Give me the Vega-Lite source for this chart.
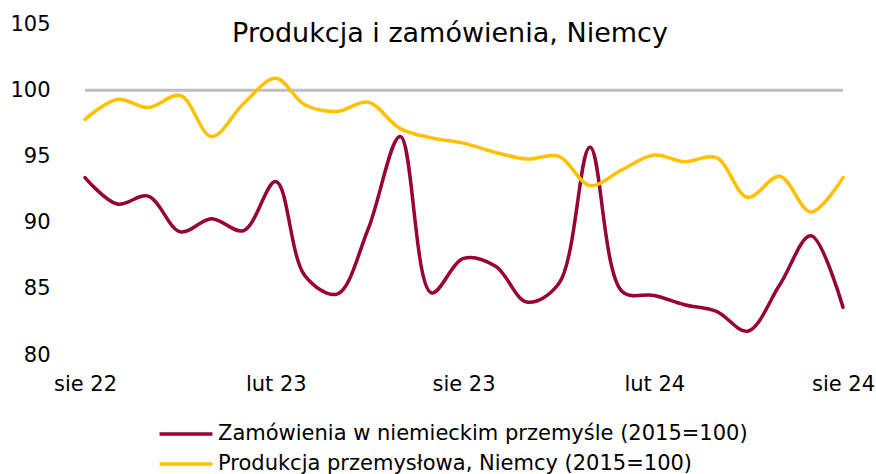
{
  "$schema": "https://vega.github.io/schema/vega-lite/v6.json",
  "width": 758,
  "height": 331,
  "autosize": "none",
  "padding": {"left": 85, "top": 24, "right": 33, "bottom": 119},
  "background": "white",
  "config": {"view": {"stroke": null}, "font": "DejaVu Sans"},
  "title": {"text": "Produkcja i zamówienia, Niemcy", "fontSize": 27, "font": "DejaVu Sans", "fontWeight": "normal", "color": "#000000", "anchor": "middle", "dx": -14, "offset": -35, "baseline": "top"},
  "datasets": {
    "series": [
      {"date": "2022-08-01", "series": "Zamówienia w niemieckim przemyśle (2015=100)", "value": 93.4},
      {"date": "2022-09-01", "series": "Zamówienia w niemieckim przemyśle (2015=100)", "value": 91.4},
      {"date": "2022-10-01", "series": "Zamówienia w niemieckim przemyśle (2015=100)", "value": 92.0},
      {"date": "2022-11-01", "series": "Zamówienia w niemieckim przemyśle (2015=100)", "value": 89.3},
      {"date": "2022-12-01", "series": "Zamówienia w niemieckim przemyśle (2015=100)", "value": 90.3},
      {"date": "2023-01-01", "series": "Zamówienia w niemieckim przemyśle (2015=100)", "value": 89.4},
      {"date": "2023-02-01", "series": "Zamówienia w niemieckim przemyśle (2015=100)", "value": 93.1},
      {"date": "2023-03-01", "series": "Zamówienia w niemieckim przemyśle (2015=100)", "value": 86.0},
      {"date": "2023-04-01", "series": "Zamówienia w niemieckim przemyśle (2015=100)", "value": 84.6},
      {"date": "2023-05-01", "series": "Zamówienia w niemieckim przemyśle (2015=100)", "value": 89.5},
      {"date": "2023-06-01", "series": "Zamówienia w niemieckim przemyśle (2015=100)", "value": 96.5},
      {"date": "2023-07-01", "series": "Zamówienia w niemieckim przemyśle (2015=100)", "value": 84.7},
      {"date": "2023-08-01", "series": "Zamówienia w niemieckim przemyśle (2015=100)", "value": 87.3},
      {"date": "2023-09-01", "series": "Zamówienia w niemieckim przemyśle (2015=100)", "value": 86.7},
      {"date": "2023-10-01", "series": "Zamówienia w niemieckim przemyśle (2015=100)", "value": 84.0},
      {"date": "2023-11-01", "series": "Zamówienia w niemieckim przemyśle (2015=100)", "value": 85.4},
      {"date": "2023-12-01", "series": "Zamówienia w niemieckim przemyśle (2015=100)", "value": 95.7},
      {"date": "2024-01-01", "series": "Zamówienia w niemieckim przemyśle (2015=100)", "value": 84.8},
      {"date": "2024-02-01", "series": "Zamówienia w niemieckim przemyśle (2015=100)", "value": 84.5},
      {"date": "2024-03-01", "series": "Zamówienia w niemieckim przemyśle (2015=100)", "value": 83.8},
      {"date": "2024-04-01", "series": "Zamówienia w niemieckim przemyśle (2015=100)", "value": 83.3},
      {"date": "2024-05-01", "series": "Zamówienia w niemieckim przemyśle (2015=100)", "value": 81.8},
      {"date": "2024-06-01", "series": "Zamówienia w niemieckim przemyśle (2015=100)", "value": 85.3},
      {"date": "2024-07-01", "series": "Zamówienia w niemieckim przemyśle (2015=100)", "value": 89.0},
      {"date": "2024-08-01", "series": "Zamówienia w niemieckim przemyśle (2015=100)", "value": 83.6},
      {"date": "2022-08-01", "series": "Produkcja przemysłowa, Niemcy (2015=100)", "value": 97.8},
      {"date": "2022-09-01", "series": "Produkcja przemysłowa, Niemcy (2015=100)", "value": 99.3},
      {"date": "2022-10-01", "series": "Produkcja przemysłowa, Niemcy (2015=100)", "value": 98.7},
      {"date": "2022-11-01", "series": "Produkcja przemysłowa, Niemcy (2015=100)", "value": 99.6},
      {"date": "2022-12-01", "series": "Produkcja przemysłowa, Niemcy (2015=100)", "value": 96.5},
      {"date": "2023-01-01", "series": "Produkcja przemysłowa, Niemcy (2015=100)", "value": 99.0},
      {"date": "2023-02-01", "series": "Produkcja przemysłowa, Niemcy (2015=100)", "value": 100.9},
      {"date": "2023-03-01", "series": "Produkcja przemysłowa, Niemcy (2015=100)", "value": 98.9},
      {"date": "2023-04-01", "series": "Produkcja przemysłowa, Niemcy (2015=100)", "value": 98.4},
      {"date": "2023-05-01", "series": "Produkcja przemysłowa, Niemcy (2015=100)", "value": 99.1},
      {"date": "2023-06-01", "series": "Produkcja przemysłowa, Niemcy (2015=100)", "value": 97.1},
      {"date": "2023-07-01", "series": "Produkcja przemysłowa, Niemcy (2015=100)", "value": 96.4},
      {"date": "2023-08-01", "series": "Produkcja przemysłowa, Niemcy (2015=100)", "value": 96.0},
      {"date": "2023-09-01", "series": "Produkcja przemysłowa, Niemcy (2015=100)", "value": 95.3},
      {"date": "2023-10-01", "series": "Produkcja przemysłowa, Niemcy (2015=100)", "value": 94.8},
      {"date": "2023-11-01", "series": "Produkcja przemysłowa, Niemcy (2015=100)", "value": 95.0},
      {"date": "2023-12-01", "series": "Produkcja przemysłowa, Niemcy (2015=100)", "value": 92.8},
      {"date": "2024-01-01", "series": "Produkcja przemysłowa, Niemcy (2015=100)", "value": 94.0},
      {"date": "2024-02-01", "series": "Produkcja przemysłowa, Niemcy (2015=100)", "value": 95.1},
      {"date": "2024-03-01", "series": "Produkcja przemysłowa, Niemcy (2015=100)", "value": 94.6},
      {"date": "2024-04-01", "series": "Produkcja przemysłowa, Niemcy (2015=100)", "value": 94.9},
      {"date": "2024-05-01", "series": "Produkcja przemysłowa, Niemcy (2015=100)", "value": 91.9},
      {"date": "2024-06-01", "series": "Produkcja przemysłowa, Niemcy (2015=100)", "value": 93.5},
      {"date": "2024-07-01", "series": "Produkcja przemysłowa, Niemcy (2015=100)", "value": 90.8},
      {"date": "2024-08-01", "series": "Produkcja przemysłowa, Niemcy (2015=100)", "value": 93.4}
    ],
    "ref": [{"level": 100}]
  },
  "layer": [
    {
      "data": {"name": "ref"},
      "mark": {"type": "rule", "color": "#BFBFBF", "strokeWidth": 3},
      "encoding": {"y": {"field": "level", "type": "quantitative", "scale": {"domain": [80, 105]}}}
    },
    {
      "data": {"name": "series"},
      "mark": {"type": "line", "interpolate": "catmull-rom", "strokeWidth": 3.5, "strokeCap": "round"},
      "encoding": {
        "x": {
          "field": "date", "type": "temporal",
          "scale": {"type": "utc", "domain": [{"year": 2022, "month": 8, "date": 1, "utc": true}, {"year": 2024, "month": 8, "date": 1, "utc": true}]},
          "axis": {
            "title": null, "domain": false, "ticks": false, "grid": false,
            "values": [
              {"year": 2022, "month": 8, "date": 1, "utc": true},
              {"year": 2023, "month": 2, "date": 1, "utc": true},
              {"year": 2023, "month": 8, "date": 1, "utc": true},
              {"year": 2024, "month": 2, "date": 1, "utc": true},
              {"year": 2024, "month": 8, "date": 1, "utc": true}
            ],
            "labelExpr": "(utcmonth(datum.value) == 7 ? 'sie ' : 'lut ') + utcFormat(datum.value, '%y')",
            "labelFontSize": 21, "labelColor": "#000000", "labelPadding": 18, "labelFont": "DejaVu Sans", "labelFlush": false, "labelOverlap": false
          }
        },
        "y": {
          "field": "value", "type": "quantitative",
          "scale": {"domain": [80, 105], "nice": false, "zero": false},
          "axis": {"title": null, "domain": false, "ticks": false, "grid": false, "values": [80, 85, 90, 95, 100, 105], "labelFontSize": 21, "labelColor": "#000000", "labelPadding": 35, "labelFont": "DejaVu Sans"}
        },
        "color": {
          "field": "series", "type": "nominal",
          "scale": {"domain": ["Zamówienia w niemieckim przemyśle (2015=100)", "Produkcja przemysłowa, Niemcy (2015=100)"], "range": ["#990033", "#FFC000"]},
          "legend": {
            "title": null, "orient": "none", "legendX": 86, "legendY": 395, "direction": "vertical",
            "symbolType": "M-2,0H2", "symbolSize": 700, "symbolStrokeWidth": 3.5, "symbolFillColor": "transparent",
            "labelFontSize": 21, "labelFont": "DejaVu Sans", "labelColor": "#000000", "labelOffset": 17, "rowPadding": 5, "labelLimit": 700
          }
        }
      }
    }
  ]
}
